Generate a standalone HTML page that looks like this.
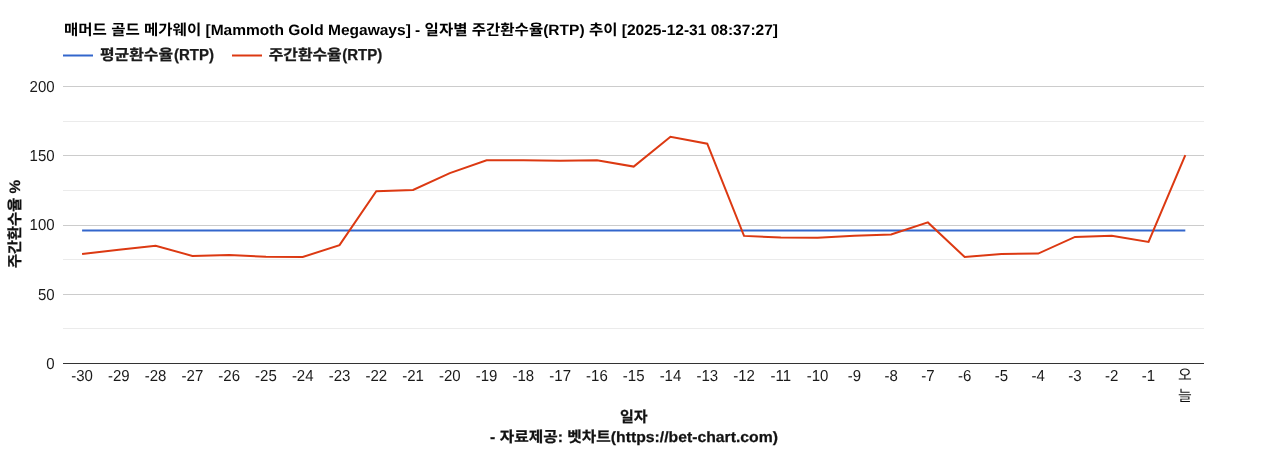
<!DOCTYPE html>
<html lang="ko"><head><meta charset="utf-8">
<title>매머드 골드 메가웨이 [Mammoth Gold Megaways] - 일자별 주간환수율(RTP) 추이</title>
<style>
html,body{margin:0;padding:0;background:#fff;}
body{width:1268px;height:450px;overflow:hidden;font-family:"Liberation Sans","Noto Sans CJK KR",sans-serif;}
svg{display:block;will-change:transform;}
svg text{font-family:"Liberation Sans","Noto Sans CJK KR",sans-serif;font-size:15px;fill:#1a1a1a;text-rendering:geometricPrecision;}
.b{font-weight:bold;stroke:#1a1a1a;stroke-width:0.25px;}
</style></head><body>
<svg width="1268" height="450" viewBox="0 0 1268 450" role="img" aria-label="매머드 골드 메가웨이 [Mammoth Gold Megaways] - 일자별 주간환수율(RTP) 추이 [2025-12-31 08:37:27]">
<rect x="0" y="0" width="1268" height="450" fill="#ffffff"/>
<g id="title">
<text x="64" y="35.3" font-weight="bold" style="fill:#000000;font-size:15px;" textLength="714" lengthAdjust="spacingAndGlyphs">매머드 골드 메가웨이 [Mammoth Gold Megaways] - 일자별 주간환수율(RTP) 추이 [2025-12-31 08:37:27]</text>
</g>
<g id="legend">
<path d="M63,55.5L93,55.5" stroke="#3366cc" stroke-width="2" fill="none"/>
<path d="M232,55.5L262,55.5" stroke="#dc3912" stroke-width="2" fill="none"/>
<text class="b" x="100" y="60.3" textLength="73" lengthAdjust="spacingAndGlyphs">평균환수율</text>
<text class="b" x="268.7" y="60.3" textLength="73" lengthAdjust="spacingAndGlyphs">주간환수율</text>
<text class="b" x="173.9" y="56.89" transform="scale(1,1.06)">(RTP)</text>
<text class="b" x="342.2" y="56.89" transform="scale(1,1.06)">(RTP)</text>
</g>
<g id="grid">
<rect x="63" y="121" width="1141" height="1" fill="#ebebeb"/>
<rect x="63" y="190" width="1141" height="1" fill="#ebebeb"/>
<rect x="63" y="259" width="1141" height="1" fill="#ebebeb"/>
<rect x="63" y="328" width="1141" height="1" fill="#ebebeb"/>
<rect x="63" y="86" width="1141" height="1" fill="#cccccc"/>
<rect x="63" y="155" width="1141" height="1" fill="#cccccc"/>
<rect x="63" y="225" width="1141" height="1" fill="#cccccc"/>
<rect x="63" y="294" width="1141" height="1" fill="#cccccc"/>
<rect x="63" y="363" width="1141" height="1" fill="#333333"/>
</g>
<g id="series" fill="none" stroke-width="2">
<path d="M82.09,230.5L1185.31,230.5" stroke="#3366cc"/>
<path d="M82.09,253.9L118.86,249.8L155.64,245.7L192.41,255.9L229.19,255L265.96,256.8L302.73,257L339.51,245.1L376.28,191.2L413.06,189.9L449.83,173.1L486.6,160.3L523.38,160.3L560.15,160.8L596.93,160.3L633.7,166.6L670.47,136.8L707.25,143.7L744.02,235.9L780.8,237.6L817.57,237.7L854.34,235.8L891.12,234.5L927.89,222.4L964.67,257L1001.44,253.9L1038.21,253.6L1074.99,236.9L1111.76,235.8L1148.54,241.9L1185.31,155.2" stroke="#dc3912"/>
</g>
<g id="yticks" text-anchor="end">
<text x="54.6" y="86.6" transform="scale(1,1.06)">200</text>
<text x="54.6" y="151.93" transform="scale(1,1.06)">150</text>
<text x="54.6" y="217.26" transform="scale(1,1.06)">100</text>
<text x="54.6" y="282.59" transform="scale(1,1.06)">50</text>
<text x="54.6" y="347.92" transform="scale(1,1.06)">0</text>
</g>
<g id="xticks" text-anchor="middle">
<text x="82.09" y="359.43" transform="scale(1,1.06)">-30</text>
<text x="118.86" y="359.43" transform="scale(1,1.06)">-29</text>
<text x="155.64" y="359.43" transform="scale(1,1.06)">-28</text>
<text x="192.41" y="359.43" transform="scale(1,1.06)">-27</text>
<text x="229.19" y="359.43" transform="scale(1,1.06)">-26</text>
<text x="265.96" y="359.43" transform="scale(1,1.06)">-25</text>
<text x="302.73" y="359.43" transform="scale(1,1.06)">-24</text>
<text x="339.51" y="359.43" transform="scale(1,1.06)">-23</text>
<text x="376.28" y="359.43" transform="scale(1,1.06)">-22</text>
<text x="413.06" y="359.43" transform="scale(1,1.06)">-21</text>
<text x="449.83" y="359.43" transform="scale(1,1.06)">-20</text>
<text x="486.6" y="359.43" transform="scale(1,1.06)">-19</text>
<text x="523.38" y="359.43" transform="scale(1,1.06)">-18</text>
<text x="560.15" y="359.43" transform="scale(1,1.06)">-17</text>
<text x="596.93" y="359.43" transform="scale(1,1.06)">-16</text>
<text x="633.7" y="359.43" transform="scale(1,1.06)">-15</text>
<text x="670.47" y="359.43" transform="scale(1,1.06)">-14</text>
<text x="707.25" y="359.43" transform="scale(1,1.06)">-13</text>
<text x="744.02" y="359.43" transform="scale(1,1.06)">-12</text>
<text x="780.8" y="359.43" transform="scale(1,1.06)">-11</text>
<text x="817.57" y="359.43" transform="scale(1,1.06)">-10</text>
<text x="854.34" y="359.43" transform="scale(1,1.06)">-9</text>
<text x="891.12" y="359.43" transform="scale(1,1.06)">-8</text>
<text x="927.89" y="359.43" transform="scale(1,1.06)">-7</text>
<text x="964.67" y="359.43" transform="scale(1,1.06)">-6</text>
<text x="1001.44" y="359.43" transform="scale(1,1.06)">-5</text>
<text x="1038.21" y="359.43" transform="scale(1,1.06)">-4</text>
<text x="1074.99" y="359.43" transform="scale(1,1.06)">-3</text>
<text x="1111.76" y="359.43" transform="scale(1,1.06)">-2</text>
<text x="1148.54" y="359.43" transform="scale(1,1.06)">-1</text>
</g>
<g id="labels">
<text x="1185" y="380" text-anchor="middle" style="fill:#111111;">오</text>
<text x="1185" y="401" text-anchor="middle" style="fill:#111111;">늘</text>
<text class="b" x="633.7" y="422" text-anchor="middle" style="fill:#111111;">일자</text>
<text class="b" x="490" y="441.9" style="fill:#111111;" textLength="288" lengthAdjust="spacingAndGlyphs">- 자료제공: 벳차트(https://bet-chart.com)</text>
<text class="b" transform="translate(19.5,268) rotate(-90)" style="fill:#111111;" textLength="88" lengthAdjust="spacingAndGlyphs">주간환수율 %</text>
</g>
</svg>
</body></html>
